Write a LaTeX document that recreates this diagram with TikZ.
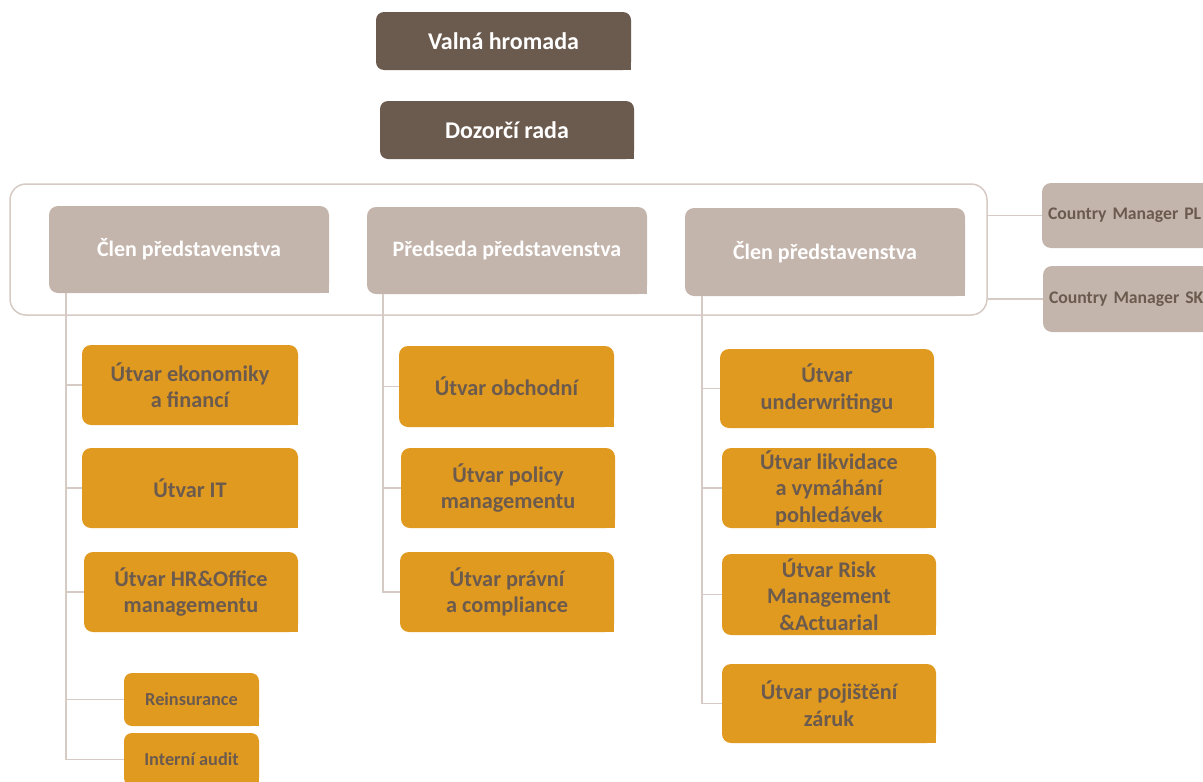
\documentclass[tikz,border=0pt]{standalone}
\usepackage{fontspec}
\setmainfont{Carlito}
\usetikzlibrary{positioning}
\definecolor{darkbrown}{HTML}{6B5A4E}
\definecolor{lightbrown}{HTML}{C4B5AC}
\definecolor{ochre}{HTML}{E09A20}
\definecolor{linegray}{HTML}{D6CAC4}
\tikzset{
  gmbox/.style = {fill=darkbrown, rounded corners=8, text=white, inner sep=0,
    font=\bfseries\fontsize{24}{28}\selectfont, minimum width=255, minimum height=58},
  headbox/.style = {fill=lightbrown, rounded corners=9, text=white, inner sep=0,
    font=\bfseries\fontsize{22}{26}\selectfont, minimum width=280, minimum height=87},
  cmbox/.style = {fill=lightbrown, rounded corners=9, text=darkbrown, inner ysep=0, inner xsep=6,
    font=\bfseries\fontsize{17.7}{21}\selectfont, text width=210, align=left, minimum height=65},
  unitbox/.style = {fill=ochre, rounded corners=9, text=darkbrown, inner sep=0, align=center,
    font=\bfseries\fontsize{22.3}{26.5}\selectfont, minimum width=215, minimum height=80},
  smallbox/.style = {fill=ochre, rounded corners=8, text=darkbrown, inner sep=0,
    font=\bfseries\fontsize{18.3}{21}\selectfont, minimum width=135, minimum height=53},
  link/.style = {draw=linegray, line width=1.3}
}
\begin{document}
\begin{tikzpicture}[x=1pt, y=-1pt]
    \useasboundingbox (0,0) rectangle (1203,782);

    % top bodies
    \node [gmbox] (vh) at (503.5, 41) {Valná hromada};
    \node [gmbox, minimum width=254] (dr) at (507, 130) {Dozorčí rada};

    % board
    \node [draw=linegray, line width=1.5, rounded corners=16, minimum width=977, minimum height=131] (board) at (498.5, 249.5) {};
    \node [headbox] (cl1) at (189, 249.5) {Člen představenstva};
    \node [headbox] (pp) at (507, 250.5) {Předseda představenstva};
    \node [headbox, minimum height=88] (cl2) at (825, 252) {Člen představenstva};

    \node [cmbox] (cmpl) at (1153, 215.5) {Country Manager PL};
    \node [cmbox, minimum height=66] (cmsk) at (1154, 299) {Country Manager SK};

    % units
    \node [unitbox, minimum width=216] (u1) at (190, 385) {Útvar ekonomiky\\a financí};
    \node [unitbox, minimum width=216] (u2) at (190, 488) {Útvar IT};
    \node [unitbox, minimum width=214] (u3) at (191, 592) {Útvar HR\&Office\\managementu};
    \node [smallbox] (re) at (191.5, 699.5) {Reinsurance};
    \node [smallbox] (ia) at (191.5, 759.5) {Interní audit};

    \node [unitbox, minimum height=81] (m1) at (506.5, 386.5) {Útvar obchodní};
    \node [unitbox, minimum width=214] (m2) at (508, 488) {Útvar policy\\managementu};
    \node [unitbox, minimum width=214] (m3) at (507, 592) {Útvar právní\\a compliance};

    \node [unitbox, minimum width=214, minimum height=79] (r1) at (827, 388.5) {Útvar\\underwritingu};
    \node [unitbox, minimum width=214] (r2) at (829, 488) {Útvar likvidace\\a vymáhání\\pohledávek};
    \node [unitbox, minimum width=214, minimum height=81] (r3) at (829, 594.5) {Útvar Risk\\Management\\\&Actuarial};
    \node [unitbox, minimum width=214, minimum height=79] (r4) at (829, 703.5) {Útvar pojištění\\záruk};

    % square lower right corners
    \foreach \n in {vh, dr}
      \fill [darkbrown] (\n.south east) rectangle ++(-9,-9);
    \foreach \n in {cl1, pp, cl2}
      \fill [lightbrown] (\n.south east) rectangle ++(-10,-10);
    \foreach \n in {u1, u2, u3, re, ia, m1, m2, m3, r1, r2, r3, r4}
      \fill [ochre] (\n.south east) rectangle ++(-10,-10);

    % connectors
    \coordinate (lt) at (66, 293);
    \coordinate (mt) at (383, 294);
    \coordinate (rt) at (702, 296);

    \draw [link] (cmpl.west -| board.east) -- (cmpl.west);
    \draw [link] (cmsk.west -| board.east) -- (cmsk.west);

    \foreach \n in {u1, u2, u3, re, ia}
      \draw [link] (lt) |- (\n.west);
    \foreach \n in {m1, m2, m3}
      \draw [link] (mt) |- (\n.west);
    \foreach \n in {r1, r2, r3, r4}
      \draw [link] (rt) |- (\n.west);
\end{tikzpicture}
\end{document}
